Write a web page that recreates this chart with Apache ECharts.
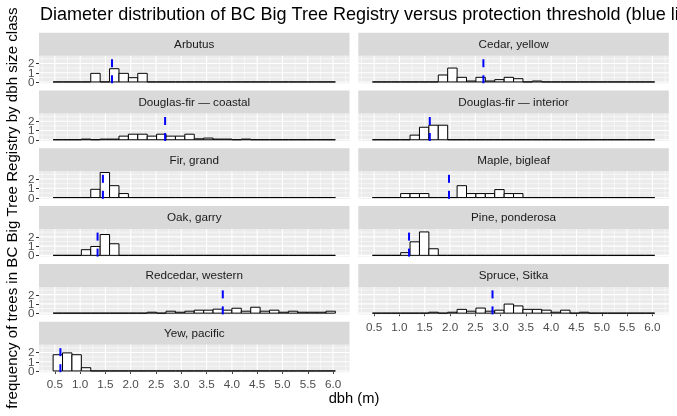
<!DOCTYPE html>
<html><head><meta charset="utf-8">
<script src="https://cdn.jsdelivr.net/npm/echarts@6/dist/echarts.min.js"></script>
<style>html,body{margin:0;padding:0;background:#fff}#c{width:677px;height:416px}</style>
</head><body><div id="c"></div>
<script>
// ---- data ----
const species = ["Arbutus","Cedar, yellow","Douglas-fir \u2014 coastal","Douglas-fir \u2014 interior","Fir, grand","Maple, bigleaf","Oak, garry","Pine, ponderosa","Redcedar, western","Spruce, Sitka","Yew, pacific"];
// histogram bins (dbh, m)
const binStart = 0.466;
const binWidth = 0.186;
// density per bin (30 bins)
const arbutus      = [0,0,0,0,0.93,0,1.43,0.93,0.46,0.93,0,0,0,0,0,0,0,0,0,0,0,0,0,0,0,0,0,0,0,0];
const cedarYellow  = [0,0,0,0,0,0,0,0.75,1.5,0.5,0.1,0.5,0.1,0.25,0.5,0.35,0,0.1,0,0,0,0,0,0,0,0,0,0,0,0];
const dfirCoastal  = [0,0,0,0.07,0,0.07,0.07,0.39,0.6,0.6,0.39,0.6,0.39,0.39,0.6,0.1,0.18,0.07,0.07,0,0.07,0,0,0,0,0,0,0,0,0];
const dfirInterior = [0,0,0,0,0.5,1.35,1.57,1.57,0,0,0,0,0,0,0,0,0,0,0,0,0,0,0,0,0,0,0,0,0,0];
const firGrand     = [0,0,0,0,0.89,2.71,1.28,0.43,0,0,0,0,0,0,0,0,0,0,0,0,0,0,0,0,0,0,0,0,0,0];
const mapleBigleaf = [0,0,0,0.43,0.43,0.43,0,0,0,1.28,0.43,0.43,0.43,0.86,0.43,0.43,0,0,0,0,0,0,0,0,0,0,0,0,0,0];
const oakGarry     = [0,0,0,0.61,0.96,2.25,1.25,0,0,0,0,0,0,0,0,0,0,0,0,0,0,0,0,0,0,0,0,0,0,0];
const pinePonderosa= [0,0,0,0.29,1.46,2.53,0.71,0,0,0,0,0,0,0,0,0,0,0,0,0,0,0,0,0,0,0,0,0,0,0];
const redcedarWest = [0,0,0,0,0,0,0,0,0,0,0.1,0,0.21,0.1,0.21,0.32,0.32,0.43,0.32,0.53,0.21,0.64,0.21,0.32,0.1,0.21,0.1,0.1,0.1,0.21];
const spruceSitka  = [0,0,0,0,0,0,0.1,0,0.1,0.41,0.21,0.55,0.21,0.32,0.98,0.78,0.41,0.41,0.32,0.1,0.32,0,0.1,0,0,0,0,0,0,0];
const yewPacific   = [1.75,1.95,1.75,0.35,0,0,0,0,0,0,0,0,0,0,0,0,0,0,0,0,0,0,0,0,0,0,0,0,0,0];
const densities = [arbutus,cedarYellow,dfirCoastal,dfirInterior,firGrand,mapleBigleaf,oakGarry,pinePonderosa,redcedarWest,spruceSitka,yewPacific];
// protection thresholds (dbh, m)
const thresholds = [1.63,2.66,2.68,1.60,1.45,1.98,1.345,1.19,3.82,2.84,0.61];
// axis breaks / tick labels
const xBreaks = [0.5,1.0,1.5,2.0,2.5,3.0,3.5,4.0,4.5,5.0,5.5,6.0];
const xMinorBreaks = [0.25,0.75,1.25,1.75,2.25,2.75,3.25,3.75,4.25,4.75,5.25,5.75,6.25];
const yBreaks = [0,1,2];
const yTickLabels = ['0','1','2'];
const yMinorBreaks = [0.5,1.5,2.5];
const X_MIN = 0.187, X_MAX = 6.325;
const Y_MIN = -0.135, Y_MAX = 2.835;

// ---- layout ----
const FONT = "'Liberation Sans', Arial, sans-serif";
const colLeft = [39, 358.3];
const colW = 310.5;
const rowTop0 = 32.7, rowStep = 57.8, stripH = 23, panelH = 27.5;

const grids = [], xAxes = [], yAxes = [], series = [], graphics = [];
species.forEach((name, i) => {
  const col = i % 2, row = Math.floor(i / 2);
  const stripTop = rowTop0 + row * rowStep;
  const isBottom = (col === 0 && row === 5) || (col === 1 && row === 4);
  const isLeft = col === 0;
  grids.push({left: colLeft[col], top: stripTop + stripH, width: colW, height: panelH,
    show: true, backgroundColor: '#EBEBEB', borderWidth: 0, containLabel: false});
  graphics.push({type: 'rect', shape: {x: colLeft[col], y: stripTop, width: colW, height: stripH},
    style: {fill: '#D9D9D9'}, silent: true});
  graphics.push({type: 'text', x: colLeft[col] + colW / 2, y: stripTop + stripH / 2 + 0.5,
    style: {text: name, fontSize: 11.7, fontFamily: FONT, fill: '#1A1A1A', textAlign: 'center', textVerticalAlign: 'middle'}, silent: true});
  xAxes.push({type: 'value', gridIndex: i, min: X_MIN, max: X_MAX,
    axisLine: {show: false}, splitLine: {show: false},
    axisTick: {show: isBottom, customValues: xBreaks, length: 3, lineStyle: {color: '#333333', width: 1}},
    axisLabel: {show: isBottom, customValues: xBreaks, formatter: v => v.toFixed(1), color: '#4D4D4D', fontSize: 11.7, fontFamily: FONT, margin: 7, hideOverlap: false, interval: 0}});
  yAxes.push({type: 'value', gridIndex: i, min: Y_MIN, max: Y_MAX,
    axisLine: {show: false}, splitLine: {show: false}, axisTick: {show: false}, axisLabel: {show: false}});
  // grid lines
  const gl = [];
  xMinorBreaks.forEach(v => gl.push([v, 0, 1]));
  yMinorBreaks.forEach(v => gl.push([X_MIN, v, 3]));
  xBreaks.forEach(v => gl.push([v, 0, 0]));
  yBreaks.forEach(v => gl.push([X_MIN, v, 2]));
  series.push({type: 'custom', xAxisIndex: i, yAxisIndex: i, silent: true, z: 1,
    data: gl,
    renderItem: (params, api) => {
      const cs = params.coordSys;
      const kind = api.value(2);
      const w = (kind === 0 || kind === 2) ? 1.1 : 0.55;
      if (kind < 2) {
        const px = api.coord([api.value(0), 0])[0];
        return {type: 'line', shape: {x1: px, y1: cs.y, x2: px, y2: cs.y + cs.height}, style: {stroke: '#FFFFFF', lineWidth: w}};
      }
      const py = api.coord([X_MIN, api.value(1)])[1];
      return {type: 'line', shape: {x1: cs.x, y1: py, x2: cs.x + cs.width, y2: py}, style: {stroke: '#FFFFFF', lineWidth: w}};
    }});
  // y-axis ticks and labels (left column only)
  if (isLeft) {
    series.push({type: 'custom', xAxisIndex: i, yAxisIndex: i, silent: true, z: 4, clip: false,
      data: yBreaks.map((v, k) => [X_MIN, v, k]),
      renderItem: (params, api) => {
        const p = api.coord([X_MIN, api.value(1)]);
        const x0 = Math.round(p[0]);
        const y = Math.round(p[1]) + 0.5;
        return {type: 'group', children: [
          {type: 'line', shape: {x1: x0 - 3, y1: y, x2: x0, y2: y}, style: {stroke: '#333333', lineWidth: 1}},
          {type: 'text', x: x0 - 4.5, y: y, style: {text: yTickLabels[api.value(2)], fontSize: 11.7, fontFamily: FONT, fill: '#4D4D4D', textAlign: 'right', textVerticalAlign: 'middle'}}
        ]};
      }});
  }
  // histogram
  series.push({type: 'custom', xAxisIndex: i, yAxisIndex: i, silent: true, z: 2,
    data: densities[i].map((h, k) => [binStart + k * binWidth, binStart + (k + 1) * binWidth, h]),
    encode: {x: [0, 1], y: 2},
    renderItem: (params, api) => {
      const p0 = api.coord([api.value(0), api.value(2)]);
      const p1 = api.coord([api.value(1), 0]);
      return {type: 'rect', shape: {x: p0[0], y: p0[1], width: p1[0] - p0[0], height: p1[1] - p0[1]},
        style: {fill: '#FFFFFF', stroke: '#000000', lineWidth: 1}};
    }});
  // threshold line
  series.push({type: 'line', xAxisIndex: i, yAxisIndex: i, silent: true, z: 3, symbol: 'none',
    data: [[thresholds[i], Y_MIN], [thresholds[i], Y_MAX]],
    lineStyle: {color: '#0000FF', width: 2, type: [8, 8]}});
});

graphics.push({type: 'text', x: 13, y: 208, rotation: Math.PI / 2,
  style: {text: 'frequency of trees in BC Big Tree Registry by dbh size class', fontSize: 15.1, fontFamily: FONT, fill: '#000', textAlign: 'center', textVerticalAlign: 'middle'}, silent: true});
graphics.push({type: 'text', x: 354, y: 399,
  style: {text: 'dbh (m)', fontSize: 14.7, fontFamily: FONT, fill: '#000', textAlign: 'center', textVerticalAlign: 'middle'}, silent: true});

const chart = echarts.init(document.getElementById('c'), null, {renderer: 'canvas'});
chart.setOption({
  animation: false,
  backgroundColor: '#FFFFFF',
  title: {text: 'Diameter distribution of BC Big Tree Registry versus protection threshold (blue line)',
    left: 35, top: 1, textStyle: {fontSize: 18.05, fontWeight: 'normal', color: '#000', fontFamily: FONT}},
  grid: grids, xAxis: xAxes, yAxis: yAxes, series: series, graphic: graphics
});
</script></body></html>
